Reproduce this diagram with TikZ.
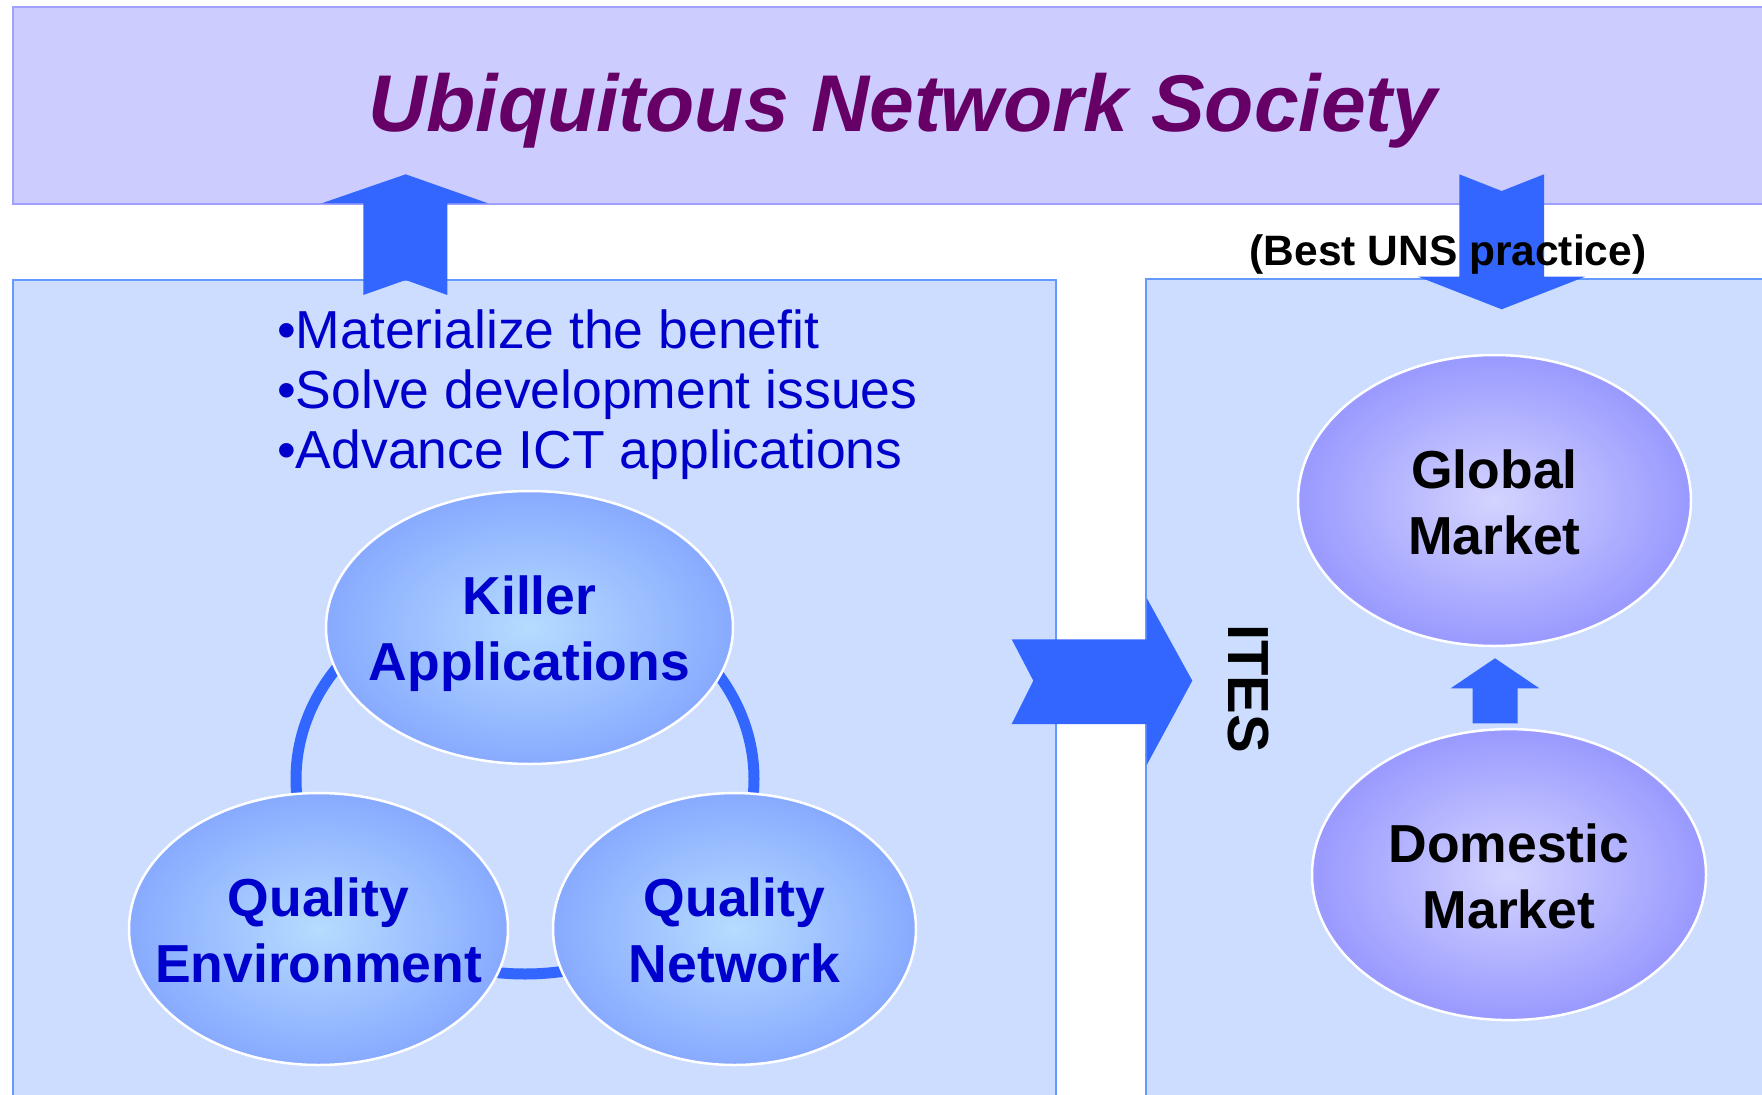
\documentclass[tikz,border=0pt]{standalone}
\usepackage{fontspec}
\setmainfont{Liberation Sans}
\usetikzlibrary{shapes.geometric}

\definecolor{bandfill}{RGB}{204,204,255}
\definecolor{bandline}{RGB}{160,160,255}
\definecolor{panelfill}{RGB}{204,221,255}
\definecolor{panelline}{RGB}{102,153,255}
\definecolor{arrowblue}{RGB}{51,102,255}
\definecolor{textblue}{RGB}{0,0,204}
\definecolor{titlepurple}{RGB}{102,0,102}
\definecolor{appin}{RGB}{182,220,255}
\definecolor{appout}{RGB}{136,170,255}
\definecolor{mktin}{RGB}{212,212,255}
\definecolor{mktout}{RGB}{153,153,255}

\tikzset{
  panel/.style={fill=panelfill, draw=panelline, line width=2pt},
  blockarrow/.style={fill=arrowblue},
  oval/.style={ellipse, draw=white, line width=2.5pt, inner sep=0pt},
  appoval/.style={oval, inner color=appin, outer color=appout},
  mktoval/.style={oval, inner color=mktin, outer color=mktout},
  ovaltext/.style={align=center, inner sep=0pt, font=\fontsize{53.5}{66}\selectfont\bfseries},
  bulletline/.style={anchor=base west, inner sep=0pt, text=textblue, font=\fontsize{53.5}{60}\selectfont},
}

\begin{document}
\begin{tikzpicture}[x=1pt, y=-1pt]
    \useasboundingbox (0,0) rectangle (1762,1095);
    \clip (0,0) rectangle (1762,1095);
    \fill[white] (0,0) rectangle (1762,1095);

    \draw[fill=bandfill, draw=bandline, line width=2pt] (13,7) rectangle (1790,204);
    \draw[panel] (13,280) rectangle (1056,1110);
    \draw[panel] (1146,279) rectangle (1790,1110);

    \node[anchor=base, inner sep=0pt, text=titlepurple,
          font=\fontsize{80.5}{80.5}\selectfont\bfseries\itshape] (title) at (903,131)
          {Ubiquitous Network Society};

    \fill[blockarrow] (363.3,295) -- (363.3,203.3) -- (321.7,203.3) -- (405.7,174.3)
        -- (488,203.3) -- (447.3,203.3) -- (447.3,295) -- (405.7,280) -- cycle;
    \fill[blockarrow] (1459.3,174.3) -- (1501.7,191) -- (1544,174.3) -- (1544,276.7)
        -- (1585,276.7) -- (1501.7,309.3) -- (1418.3,276.7) -- (1459.3,276.7) -- cycle;
    \fill[blockarrow] (1011.7,639.3) -- (1146.7,639.3) -- (1146.7,598) -- (1192.3,680.7)
        -- (1146.7,765) -- (1146.7,724) -- (1011.7,724) -- (1033.3,680.7) -- cycle;

    \node[anchor=base, inner sep=0pt, font=\fontsize{42.5}{42.5}\selectfont\bfseries] (best)
          at (1448,265) {(Best UNS practice)};

    \node[bulletline] (b1) at (277,348) {•Materialize the benefit};
    \node[bulletline] (b2) at (277,408) {•Solve development issues};
    \node[bulletline] (b3) at (277,468) {•Advance ICT applications};

    \coordinate (ring) at (525,779);
    \draw[arrowblue, line width=11pt] (ring) ellipse [x radius=229, y radius=195];

    \node[appoval, minimum width=407pt, minimum height=273pt] (killer) at (529.5,627.5) {};
    \node[appoval, minimum width=379pt, minimum height=272pt] (env) at (318.5,929) {};
    \node[appoval, minimum width=363pt, minimum height=272pt] (net) at (734.5,929) {};
    \node[ovaltext, text=textblue] at ([yshift=-6.5pt]killer.center) {Killer\\Applications};
    \node[ovaltext, text=textblue] at ([yshift=-1pt]env.center) {Quality\\Environment};
    \node[ovaltext, text=textblue] at ([yshift=-1pt]net.center) {Quality\\Network};

    \node[mktoval, minimum width=393pt, minimum height=291pt] (global) at (1494.5,500.5) {};
    \node[mktoval, minimum width=394pt, minimum height=291pt] (domestic) at (1509,874.6) {};
    \node[ovaltext] at ([yshift=-2pt]global.center) {Global\\Market};
    \node[ovaltext] at ([yshift=-2pt]domestic.center) {Domestic\\Market};

    \fill[blockarrow] (1472.7,723.3) -- (1472.7,688.3) -- (1450.7,688.3) -- (1495,658.3)
        -- (1539.3,688.3) -- (1517.7,688.3) -- (1517.7,723.3) -- cycle;

    \node[rotate=-90, inner sep=0pt, font=\fontsize{58}{58}\selectfont\bfseries] (ites)
          at (1248,688.7) {ITES};
\end{tikzpicture}
\end{document}
